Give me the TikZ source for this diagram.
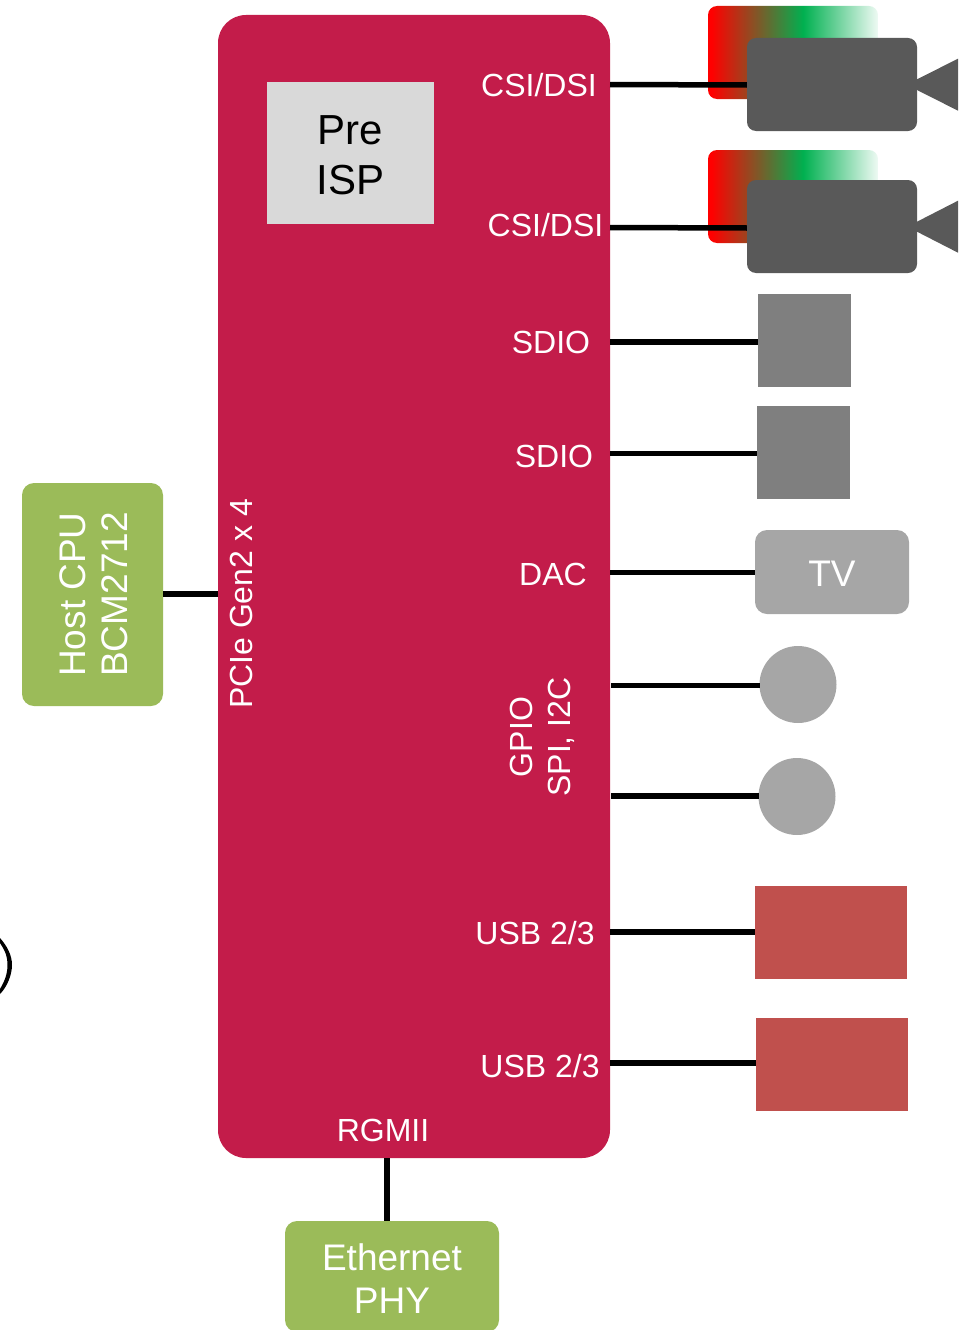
\documentclass[tikz,border=0pt]{standalone}
\usepackage{fontspec}
\setmainfont{Liberation Sans}
\definecolor{greenc}{HTML}{00B050}
\definecolor{crim}{HTML}{C31C4A}
\definecolor{ggreen}{HTML}{9BBB59}
\definecolor{dgray}{HTML}{595959}
\definecolor{mgray}{HTML}{7F7F7F}
\definecolor{lgray}{HTML}{A6A6A6}
\definecolor{rbox}{HTML}{C0504D}
\definecolor{preg}{HTML}{D9D9D9}
\pgfdeclarehorizontalshading{rgw}{100bp}{color(0bp)=(red); color(26bp)=(red); color(53bp)=(greenc); color(76.5bp)=(white); color(100bp)=(white)}
\tikzset{
 boxn/.style={inner sep=0pt,outer sep=0pt,rectangle},
 sz/.style 2 args={minimum width=#1pt,minimum height=#2pt},
 lab/.style={inner sep=0pt,text=white,font=\fontsize{32}{38}\selectfont},
 biglab/.style={inner sep=0pt,text=white,align=center,font=\fontsize{37}{42.5}\selectfont},
 wire/.style={line width=5.5pt,black},
 grad/.style={boxn,sz={170}{93},rounded corners=9pt,shading=rgw},
 cam/.style={boxn,sz={170}{93},rounded corners=9pt,fill=dgray},
 lens/.style={fill=dgray},
 sq/.style={boxn,sz={93}{93},fill=mgray},
 rb/.style={boxn,sz={152}{93},fill=rbox},
 dot/.style={circle,inner sep=0pt,outer sep=0pt,minimum size=77pt,fill=lgray},
 gbox/.style={boxn,rounded corners=12pt,fill=ggreen},
}
\begin{document}
\begin{tikzpicture}[x=1pt,y=-1pt]
\useasboundingbox (0,0) rectangle (969,1330);
% main block
\node[boxn,sz={392}{1143},rounded corners=28pt,fill=crim] (main) at (414,586.5) {};
\node[boxn,sz={167}{142},fill=preg] (isp) at (350.5,153) {};
\node[inner sep=0pt,text=black,align=center,font=\fontsize{42}{50}\selectfont] (ispl) at (350.5,155) {Pre\\ISP};
% gradients
\node[grad] (g1) at (793,52.5) {};
\node[grad] (g2) at (793,196.5) {};
% anchors on main block
\coordinate (p1) at (610,84.5);
\coordinate (p2) at (610,227.5);
\coordinate (p3) at (610,342);
\coordinate (p4) at (610,453.5);
\coordinate (p5) at (610,572.5);
\coordinate (p6) at (611,685.5);
\coordinate (p7) at (611,796);
\coordinate (p8) at (610,932);
\coordinate (p9) at (610,1063);
\coordinate (pl) at (218,594);
\coordinate (pb) at (387,1158);
% devices
\node[sq] (s1) at (804.5,340.5) {};
\node[sq] (s2) at (803.5,452.5) {};
\node[boxn,sz={154}{84},rounded corners=12pt,fill=lgray] (tv) at (832,572) {};
\node[inner sep=0pt,text=white,font=\fontsize{37}{43}\selectfont] (tvl) at (832,574) {TV};
\node[dot] (d1) at (798,684.5) {};
\node[dot] (d2) at (797,796.5) {};
\node[rb] (r1) at (831,932.5) {};
\node[rb] (r2) at (832,1064.5) {};
\node[gbox,sz={141}{223}] (host) at (92.5,594.5) {};
\node[gbox,sz={214}{111}] (eth) at (392,1276.5) {};
% connectors
\coordinate (c1) at (747,85);
\coordinate (c2) at (747,228);
\draw[wire] (p1) -- (c1);
\draw[wire] (p2) -- (c2);
\draw[wire] (p3) -- (p3 -| s1.west);
\draw[wire] (p4) -- (p4 -| s2.west);
\draw[wire] (p5) -- (p5 -| tv.west);
\draw[wire] (p6) -- (p6 -| d1.west);
\draw[wire] (p7) -- (p7 -| d2.west);
\draw[wire] (p8) -- (p8 -| r1.west);
\draw[wire] (p9) -- (p9 -| r2.west);
\draw[wire] (host.east |- pl) -- (pl);
\draw[wire] (pb) -- (pb |- eth.north);
% cameras
\node[cam] (cam1) at (832,84.5) {};
\node[cam] (cam2) at (832,226.5) {};
\fill[lens] (917,79.3) -- (958,58.7) -- (958,110.7) -- (917,90) -- cycle;
\fill[lens] (917,221.7) -- (958,200.7) -- (958,252.7) -- (917,231.7) -- cycle;
% labels
\node[lab] (l1) at (539,85) {CSI/DSI};
\node[lab] (l2) at (545.5,225) {CSI/DSI};
\node[lab] (l3) at (551,342) {SDIO};
\node[lab] (l4) at (554,456) {SDIO};
\node[lab] (l5) at (553,574) {DAC};
\node[lab,rotate=90,align=center] (l6) at (542,737) {GPIO\\SPI, I2C};
\node[lab] (l7) at (535,933) {USB 2/3};
\node[lab] (l8) at (540,1066) {USB 2/3};
\node[lab] (l9) at (383,1130) {RGMII};
\node[lab,rotate=90] (l10) at (241.5,604) {PCIe Gen2 x 4};
\node[biglab,rotate=90] (l11) at (94,594.5) {Host CPU\\BCM2712};
\node[biglab] (l12) at (392,1278.5) {Ethernet\\PHY};
% partial curve at left edge
\fill[black] (0,938) .. controls (7,946) and (12,955) .. (12,965) .. controls (12,975) and (7,987) .. (0,994) -- (0,989) .. controls (4,982) and (7.5,975) .. (7.5,965) .. controls (7.5,955) and (4,949) .. (0,943) -- cycle;
\end{tikzpicture}
\end{document}
